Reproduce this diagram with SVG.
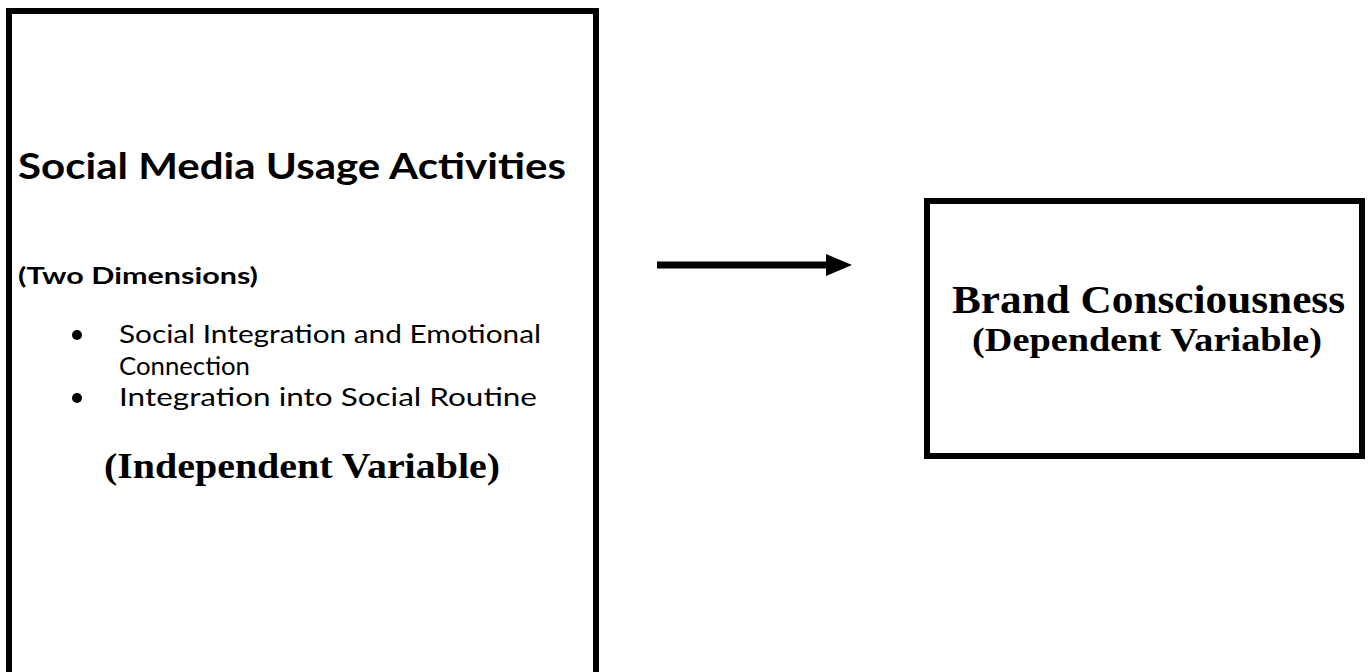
<svg xmlns="http://www.w3.org/2000/svg" width="1369" height="672" viewBox="0 0 1369 672">
<style>
.box{fill:#fff;stroke:#000;stroke-width:6}
.cal{font-family:Lato,"Open Sans","Liberation Sans",sans-serif;fill:#000}
.tnr{font-family:"Liberation Serif","Times New Roman",serif;font-weight:bold;fill:#000}
</style>
<rect width="1369" height="672" fill="#fff"/>
<g id="independent">
<rect class="box" x="9" y="11" width="587" height="700"/>
<text class="cal" x="18" y="179" font-size="37" font-weight="bold" textLength="548" lengthAdjust="spacingAndGlyphs">Social Media Usage Activities</text>
<text class="cal" x="18" y="284" font-size="23" font-weight="bold" textLength="240" lengthAdjust="spacingAndGlyphs">(Two Dimensions)</text>
<circle cx="77" cy="335" r="5" fill="#000"/>
<text class="cal" x="119" y="343" font-size="25" textLength="422" lengthAdjust="spacingAndGlyphs">Social Integration and Emotional</text>
<text class="cal" x="119" y="375" font-size="25" textLength="131" lengthAdjust="spacingAndGlyphs">Connection</text>
<circle cx="77" cy="398" r="5" fill="#000"/>
<text class="cal" x="119" y="406" font-size="25" textLength="418" lengthAdjust="spacingAndGlyphs">Integration into Social Routine</text>
<text class="tnr" x="104" y="478" font-size="36" textLength="396" lengthAdjust="spacingAndGlyphs">(Independent Variable)</text>
</g>
<g id="connectors">
<line x1="657" y1="265" x2="828" y2="265" stroke="#000" stroke-width="7"/>
<polygon points="826,254 852,265 826,276" fill="#000"/>
</g>
<g id="dependent">
<rect class="box" x="927" y="201" width="435" height="255"/>
<text class="tnr" x="952" y="313" font-size="40" textLength="393" lengthAdjust="spacingAndGlyphs">Brand Consciousness</text>
<text class="tnr" x="972" y="351" font-size="33" textLength="350" lengthAdjust="spacingAndGlyphs">(Dependent Variable)</text>
</g>
</svg>
